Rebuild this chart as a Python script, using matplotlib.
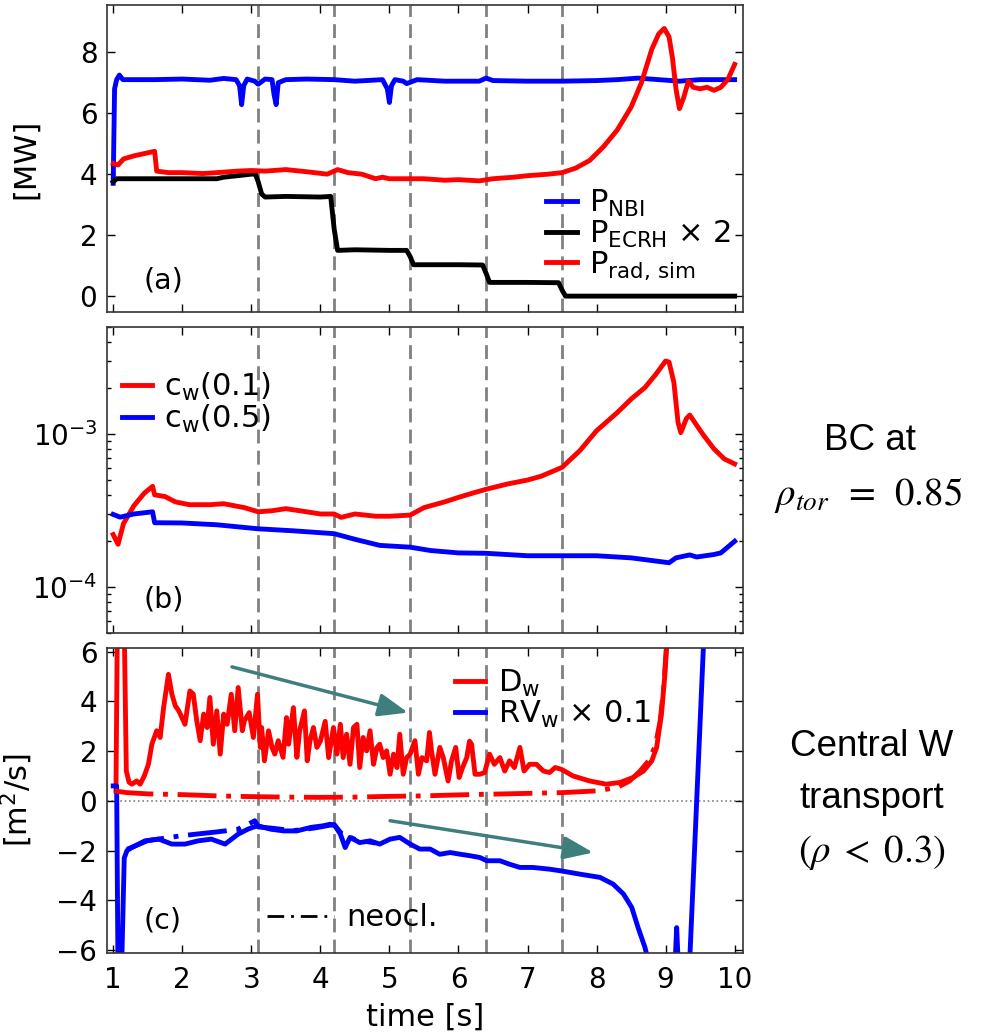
import matplotlib
matplotlib.use("Agg")
import matplotlib.pyplot as plt
from matplotlib.lines import Line2D

plt.rcParams['font.family'] = ['DejaVu Sans']
plt.rcParams['font.size'] = 22
plt.rcParams['axes.unicode_minus'] = True

# ---- (a) heating and radiated power [MW] ----
t_nbi = [1.00, 1.02, 1.05, 1.09, 1.14, 1.3, 1.6, 2.0, 2.4, 2.6, 2.78, 2.83, 2.86, 2.89, 2.94,
         3.05, 3.1, 3.2, 3.3, 3.33, 3.36, 3.39, 3.5, 3.8, 4.2, 4.5, 4.9, 4.97, 5.0, 5.03, 5.08,
         5.2, 5.25, 5.4, 5.8, 6.3, 6.4, 6.5, 7.0, 7.5, 8.0, 8.3, 8.6, 8.9, 9.2, 9.5, 10.0]
p_nbi = [3.7, 6.8, 7.1, 7.25, 7.1, 7.1, 7.1, 7.12, 7.08, 7.14, 7.1, 6.9, 6.28, 6.9, 7.12,
         7.05, 6.95, 7.12, 7.1, 6.6, 6.28, 7.0, 7.1, 7.12, 7.1, 7.05, 7.1, 6.8, 6.35, 6.9, 7.1,
         7.05, 6.97, 7.1, 7.05, 7.05, 7.15, 7.07, 7.05, 7.05, 7.07, 7.1, 7.15, 7.1, 7.05, 7.1, 7.1]

t_ecrh = [1.0, 1.05, 1.5, 2.0, 2.5, 2.6, 2.8, 3.0, 3.06, 3.1, 3.15, 3.2, 3.5, 4.0, 4.15, 4.2,
          4.25, 4.5, 5.0, 5.25, 5.3, 5.35, 6.0, 6.35, 6.4, 6.45, 7.0, 7.45, 7.5, 7.55, 10.0]
p_ecrh2 = [3.75, 3.85, 3.85, 3.85, 3.85, 3.9, 3.95, 4.0, 4.0, 3.75, 3.35, 3.25, 3.27, 3.25, 3.27, 2.2,
           1.5, 1.52, 1.5, 1.5, 1.3, 1.03, 1.03, 1.02, 0.75, 0.45, 0.45, 0.44, 0.2, 0.0, 0.0]

t_rad = [1.0, 1.07, 1.15, 1.3, 1.5, 1.6, 1.63, 1.8, 2.0, 2.3, 2.5, 2.8, 3.0, 3.2, 3.5, 3.8,
         4.1, 4.25, 4.4, 4.6, 4.8, 4.9, 5.0, 5.2, 5.5, 5.8, 6.0, 6.3, 6.5, 6.8, 7.0, 7.3, 7.5,
         7.7, 7.9, 8.1, 8.3, 8.5, 8.65, 8.8, 8.9, 8.98, 9.05, 9.1, 9.15, 9.2, 9.26, 9.33, 9.4,
         9.5, 9.6, 9.7, 9.8, 9.9, 10.0]
p_rad = [4.35, 4.3, 4.5, 4.6, 4.7, 4.75, 4.1, 4.05, 4.05, 4.02, 4.05, 4.1, 4.12, 4.1, 4.15, 4.08,
         4.0, 4.15, 4.05, 4.0, 3.85, 3.9, 3.85, 3.85, 3.85, 3.8, 3.82, 3.78, 3.85, 3.9, 3.95, 4.0, 4.05,
         4.2, 4.45, 4.9, 5.45, 6.2, 7.0, 8.1, 8.6, 8.78, 8.5, 7.8, 6.8, 6.15, 6.5, 7.05, 6.85,
         6.8, 6.85, 6.75, 6.85, 7.1, 7.6]

# ---- (b) W concentration at rho = 0.1 and 0.5 ----
t_c01 = [1.0, 1.07, 1.15, 1.3, 1.45, 1.57, 1.6, 1.75, 1.9, 2.1, 2.4, 2.6, 2.9, 3.1, 3.3, 3.5,
         3.8, 4.0, 4.2, 4.3, 4.5, 4.8, 5.0, 5.3, 5.5, 5.8, 6.0, 6.2, 6.4, 6.7, 7.0, 7.2, 7.5,
         7.76, 8.0, 8.3, 8.5, 8.7, 8.86, 9.0, 9.05, 9.12, 9.18, 9.22, 9.3, 9.35, 9.45, 9.55,
         9.7, 9.85, 10.0]
c_w01 = [2.2e-4, 1.9e-4, 2.6e-4, 3.4e-4, 4.1e-4, 4.55e-4, 4.0e-4, 3.9e-4, 3.6e-4, 3.45e-4,
         3.45e-4, 3.5e-4, 3.3e-4, 3.1e-4, 3.15e-4, 3.25e-4, 3.1e-4, 3.0e-4, 3.0e-4, 2.85e-4,
         3.0e-4, 2.9e-4, 2.9e-4, 2.95e-4, 3.3e-4, 3.6e-4, 3.85e-4, 4.1e-4, 4.35e-4, 4.7e-4,
         5.0e-4, 5.3e-4, 6.05e-4, 7.8e-4, 1.05e-3, 1.38e-3, 1.69e-3, 2.01e-3, 2.46e-3, 3.0e-3,
         2.95e-3, 2.17e-3, 1.19e-3, 1.02e-3, 1.26e-3, 1.33e-3, 1.14e-3, 9.8e-4, 8.0e-4, 6.87e-4,
         6.37e-4]

t_c05 = [1.0, 1.1, 1.3, 1.57, 1.6, 2.0, 2.5, 3.1, 3.6, 4.2, 4.5, 4.86, 5.3, 5.6, 6.0, 6.4,
         7.0, 8.0, 8.5, 9.05, 9.15, 9.35, 9.45, 9.7, 9.8, 10.0]
c_w05 = [2.98e-4, 2.86e-4, 3.0e-4, 3.1e-4, 2.63e-4, 2.62e-4, 2.55e-4, 2.4e-4, 2.33e-4,
         2.23e-4, 2.05e-4, 1.87e-4, 1.82e-4, 1.73e-4, 1.67e-4, 1.66e-4, 1.6e-4, 1.6e-4,
         1.55e-4, 1.44e-4, 1.55e-4, 1.62e-4, 1.57e-4, 1.63e-4, 1.67e-4, 1.99e-4]

# ---- (c) central transport coefficients [m^2/s] ----
t_d = [1.04, 1.06, 1.16, 1.19, 1.23, 1.27, 1.34, 1.39, 1.45, 1.51, 1.56, 1.63, 1.68, 1.73,
       1.80, 1.85, 1.90, 1.95, 2.04, 2.11, 2.16, 2.21, 2.26, 2.31, 2.36, 2.40, 2.45, 2.50,
       2.55, 2.60, 2.65, 2.71, 2.76, 2.81, 2.87, 2.90, 2.97, 3.03, 3.09, 3.13, 3.15, 3.19,
       3.25, 3.30, 3.34, 3.39, 3.46, 3.51, 3.54, 3.61, 3.66, 3.70, 3.77, 3.81, 3.85, 3.90,
       3.95, 4.0, 4.07, 4.12, 4.19, 4.24, 4.29, 4.33, 4.38, 4.43, 4.48, 4.53, 4.57, 4.62,
       4.67, 4.72, 4.77, 4.82, 4.86, 4.91, 4.96, 5.01, 5.06, 5.11, 5.15, 5.20, 5.25, 5.30,
       5.37, 5.42, 5.47, 5.54, 5.58, 5.61, 5.66, 5.73, 5.78, 5.85, 5.90, 5.96, 6.01, 6.06,
       6.12, 6.16, 6.19, 6.24, 6.31, 6.38, 6.45, 6.52, 6.60, 6.67, 6.74, 6.81, 6.89, 6.95,
       7.03, 7.13, 7.23, 7.32, 7.40, 7.49, 7.66, 7.90, 8.14, 8.34, 8.53, 8.68, 8.80, 8.87,
       8.94, 8.99, 9.02]
d_w = [0.4, 7.0, 7.0, 1.2, 0.75, 0.67, 0.8, 0.67, 1.0, 1.47, 2.28, 2.82, 2.55, 3.75,
       5.09, 4.29, 3.82, 3.62, 3.08, 4.42, 4.29, 3.22, 2.42, 3.49, 2.95, 4.16, 2.28, 3.62,
       1.88, 3.49, 3.08, 4.29, 2.82, 4.56, 2.82, 3.22, 3.55, 2.55, 4.29, 2.15, 2.95, 1.61,
       2.82, 2.15, 1.88, 2.42, 1.75, 3.35, 2.28, 3.75, 1.75, 2.82, 3.62, 1.61, 2.42, 2.95,
       2.15, 2.4, 3.2, 1.74, 2.95, 1.88, 3.08, 1.74, 2.68, 1.47, 2.95, 3.08, 1.34, 2.55,
       2.01, 2.82, 1.47, 2.15, 2.28, 1.74, 2.01, 1.07, 1.88, 1.34, 2.68, 1.07, 1.74, 1.88,
       2.42, 1.07, 1.74, 1.61, 2.75, 2.01, 1.07, 2.15, 1.74, 0.80, 1.61, 2.15, 0.94, 1.34,
       1.74, 2.4, 2.28, 1.07, 1.07, 1.14, 1.88, 1.47, 1.74, 1.20, 1.61, 1.34, 2.15, 1.20,
       1.47, 1.47, 1.20, 1.14, 1.34, 1.27, 1.0, 0.80, 0.67, 0.74, 0.94, 1.20, 1.61, 2.15,
       3.49, 5.09, 6.5]

t_d_neo = [1.02, 1.2, 1.5, 2.0, 2.5, 3.0, 3.5, 4.0, 4.5, 5.0, 5.5, 6.0, 6.5, 7.0, 7.5, 8.0,
           8.3, 8.48, 8.63, 8.75, 8.85, 8.92, 8.97, 9.02]
d_neo = [0.4, 0.33, 0.28, 0.25, 0.2, 0.17, 0.15, 0.14, 0.15, 0.18, 0.2, 0.24, 0.27, 0.3,
         0.33, 0.4, 0.54, 0.8, 1.2, 1.6, 2.2, 3.2, 4.5, 6.5]

t_v = [1.0, 1.05, 1.07, 1.12, 1.16, 1.2, 1.27, 1.46, 1.66, 1.85, 2.04, 2.23, 2.42, 2.62,
       2.81, 2.95, 3.09, 3.28, 3.47, 3.66, 3.86, 4.05, 4.14, 4.21, 4.29, 4.36, 4.43, 4.57,
       4.72, 4.86, 5.01, 5.15, 5.30, 5.44, 5.59, 5.73, 5.88, 6.03, 6.17, 6.31, 6.41, 6.60,
       6.74, 6.89, 7.08, 7.32, 7.49, 7.76, 8.05, 8.24, 8.39, 8.51, 8.60, 8.70, 8.80, 9.13,
       9.16, 9.19, 9.34, 9.56]
rv_w = [0.6, 0.6, -7.0, -7.0, -2.3, -2.0, -1.88, -1.61, -1.54, -1.74, -1.74, -1.61, -1.54,
        -1.74, -1.34, -1.14, -1.0, -1.14, -1.21, -1.21, -1.07, -1.0, -0.94, -1.0, -1.34,
        -1.88, -1.47, -1.68, -1.61, -1.74, -1.54, -1.47, -1.74, -1.94, -1.94, -2.15, -2.08,
        -2.15, -2.21, -2.28, -2.41, -2.41, -2.55, -2.68, -2.68, -2.75, -2.82, -2.95, -3.08,
        -3.35, -3.75, -4.29, -5.09, -5.89, -7.0, -7.0, -5.1, -7.0, -7.0, 7.0]

# neoclassical convection; merges with the total from ~4.2 s on
t_v_neo = [1.2, 1.5, 1.75, 2.0, 2.5, 2.8, 2.95, 3.05, 3.1, 3.3, 3.6, 3.9, 4.2, 4.3, 4.5, 4.8]
v_neo = [-1.95, -1.6, -1.5, -1.4, -1.25, -1.15, -0.95, -0.8, -1.05, -1.1, -1.2, -1.1, -0.95,
         -1.3, -1.55, -1.7]

# ECRH step times (dashed markers)
t_steps = [3.1, 4.2, 5.3, 6.4, 7.5]

lw = 3.5
neo_ls = (0, (8, 2, 1, 2))
arrow_col = '#3e7f7d'
tick_fs = 20
label_fs = 22

fig = plt.figure(figsize=(9.86, 10.32), dpi=100)
ax_a = fig.add_axes([0.1085, 0.6977, 0.645, 0.2975])
ax_b = fig.add_axes([0.1085, 0.3866, 0.645, 0.2965])
ax_c = fig.add_axes([0.1085, 0.0766, 0.645, 0.2955])

for ax in (ax_a, ax_b, ax_c):
    ax.set_xlim(0.91, 10.12)
    ax.set_xticks(range(1, 11))
    ax.tick_params(which='major', direction='in', top=True, right=True, length=6, width=1,
                   labelsize=tick_fs)
    ax.tick_params(axis='y', which='major', pad=7)
    ax.tick_params(axis='x', which='major', pad=9.5)
    ax.tick_params(which='minor', direction='in', top=True, right=True, length=3, width=1)
    for s in ax.spines.values():
        s.set_linewidth(1.2)
        s.set_color('0.2')
    for ts in t_steps:
        ax.axvline(ts, color='#808080', lw=2.0, dashes=(5, 2.6), zorder=1)

leg_kw = dict(frameon=False, handlelength=1.0, handletextpad=0.4, labelspacing=0.0,
              borderaxespad=0, borderpad=0, fontsize=label_fs)

# (a)
ax_a.plot(t_nbi, p_nbi, color='blue', lw=lw, label=r'P$_\mathrm{NBI}$')
ax_a.plot(t_ecrh, p_ecrh2, color='black', lw=lw, label=r'P$_\mathrm{ECRH}$ × 2')
ax_a.plot(t_rad, p_rad, color='red', lw=lw, label=r'P$_\mathrm{rad,\,sim}$')
ax_a.set_ylim(-0.52, 9.55)
ax_a.set_yticks([0, 2, 4, 6, 8])
ax_a.set_xticklabels([])
ax_a.set_ylabel('[MW]', fontsize=label_fs)
ax_a.yaxis.set_label_coords(-0.105, 0.5)
ax_a.text(0.057, 0.104, '(a)', transform=ax_a.transAxes, ha='left', va='center', fontsize=20.5)
ax_a.legend(loc='center left', bbox_to_anchor=(0.691, 0.251), **leg_kw)

# (b)
ax_b.semilogy(t_c01, c_w01, color='red', lw=lw, label=r'c$_\mathrm{w}$(0.1)')
ax_b.semilogy(t_c05, c_w05, color='blue', lw=lw, label=r'c$_\mathrm{w}$(0.5)')
ax_b.set_ylim(5e-5, 5e-3)
ax_b.set_xticklabels([])
ax_b.text(0.057, 0.108, '(b)', transform=ax_b.transAxes, ha='left', va='center', fontsize=20.5)
ax_b.legend(loc='center left', bbox_to_anchor=(0.023, 0.752), **leg_kw)

# (c)
ax_c.axhline(0, color='0.5', lw=1.2, ls=':', zorder=1)
ax_c.plot(t_d, d_w, color='red', lw=lw, label=r'D$_\mathrm{w}$')
ax_c.plot(t_v, rv_w, color='blue', lw=lw, label=r'RV$_\mathrm{w}$ × 0.1')
ax_c.plot(t_d_neo, d_neo, color='red', lw=lw, ls=neo_ls)
ax_c.plot(t_v_neo, v_neo, color='blue', lw=lw, ls=neo_ls)
ax_c.set_ylim(-6.12, 6.15)
ax_c.set_yticks([-6, -4, -2, 0, 2, 4, 6])
ax_c.set_ylabel('[m$^2$/s]', fontsize=label_fs)
ax_c.yaxis.set_label_coords(-0.113, 0.5)
ax_c.set_xlabel('time [s]', fontsize=label_fs, labelpad=6)
ax_c.text(0.057, 0.108, '(c)', transform=ax_c.transAxes, ha='left', va='center', fontsize=20.5)

leg_c = ax_c.legend(loc='center left', bbox_to_anchor=(0.547, 0.833), **leg_kw)
ax_c.add_artist(leg_c)
neo_handle = Line2D([], [], color='black', lw=2, ls=(0, (6, 2.5, 1, 2.5)))
ax_c.legend([neo_handle], ['neocl.'], loc='center left', bbox_to_anchor=(0.252, 0.115),
            frameon=False, handlelength=2.2, handletextpad=0.4, borderaxespad=0,
            borderpad=0, fontsize=label_fs)

# trend arrows
arrow_kw = dict(arrowstyle='-|>,head_length=0.9,head_width=0.35', color=arrow_col, lw=2.5,
                mutation_scale=20, shrinkA=0, shrinkB=0)
ax_c.annotate('', xy=(5.27, 3.55), xytext=(2.72, 5.39), arrowprops=arrow_kw)
ax_c.annotate('', xy=(7.95, -2.08), xytext=(5.01, -0.80), arrowprops=arrow_kw)

# side annotations
fig.text(0.882, 0.5736, 'BC at', ha='center', va='center', fontsize=26.5,
         family='Liberation Sans')
fig.text(0.880, 0.5204, r'$\rho_{tor}\ \,=\ \,0.85$', ha='center', va='center', fontsize=28,
         math_fontfamily='stix')
fig.text(0.8844, 0.2762, 'Central W', ha='center', va='center', fontsize=26.5,
         family='Liberation Sans')
fig.text(0.8844, 0.2267, 'transport', ha='center', va='center', fontsize=26.5,
         family='Liberation Sans')
fig.text(0.8844, 0.1744, r'$(\rho\;<\;0.3)$', ha='center', va='center', fontsize=28,
         math_fontfamily='stix')

fig.savefig('out.png', dpi=100)
